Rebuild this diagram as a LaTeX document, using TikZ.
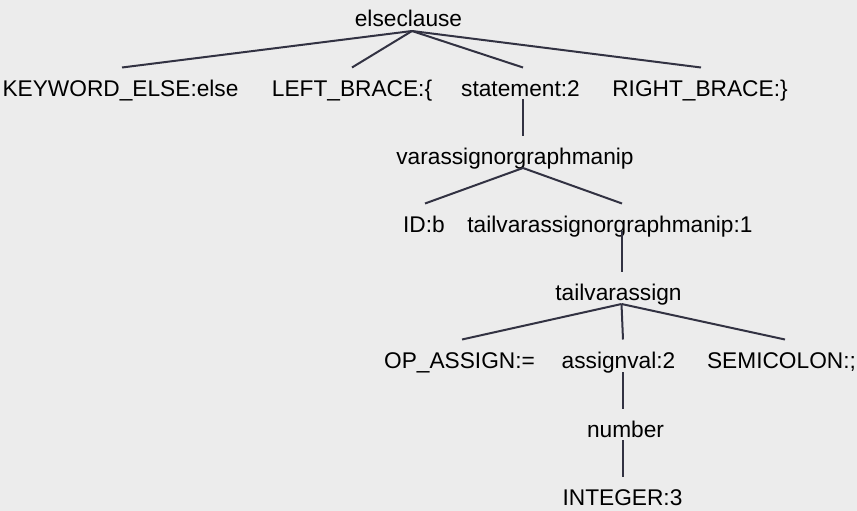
\documentclass[tikz,border=0pt]{standalone}
\usepackage{fontspec}
\setmainfont{Liberation Sans}
\definecolor{bg}{RGB}{236,236,236}
\definecolor{edge}{RGB}{50,50,66}
\tikzset{
  tok/.style={anchor=base, inner sep=0pt, font=\fontsize{22.7}{27}\selectfont},
  branch/.style={draw=edge, line width=2pt},
}
\begin{document}
\begin{tikzpicture}[x=1pt, y=-1pt]
    \fill [bg] (0, 0) rectangle (857, 511);
    \useasboundingbox (0, 0) rectangle (857, 511);

    % Root
    \node [tok] (else) at (408.5, 27) {elseclause};

    % Children of elseclause
    \node [tok] (kw) at (120.5, 96) {KEYWORD\_ELSE:else};
    \node [tok] (lb) at (352, 96) {LEFT\_BRACE:\{};
    \node [tok] (st) at (520.5, 96) {statement:2};
    \node [tok] (rb) at (700, 96) {RIGHT\_BRACE:\}};

    % Statement
    \node [tok] (va) at (515, 164) {varassignorgraphmanip};
    \node [tok] (id) at (424, 232) {ID:b};
    \node [tok] (tv) at (610, 232) {tailvarassignorgraphmanip:1};

    % Assignment
    \node [tok] (ta) at (618.5, 300) {tailvarassign};
    \node [tok] (op) at (459.5, 368) {OP\_ASSIGN:=};
    \node [tok] (av) at (618.5, 368) {assignval:2};
    \node [tok] (sc) at (781.5, 368) {SEMICOLON:;};
    \node [tok] (nu) at (625.5, 437) {number};
    \node [tok] (in) at (622.5, 505) {INTEGER:3};

    % Edges
    \draw [branch] ([xshift=3.5pt, yshift=-4pt]else.base) -- ([xshift=1.5pt, yshift=28.5pt]kw.base);
    \draw [branch] ([xshift=3.5pt, yshift=-4pt]else.base) -- ([yshift=28.5pt]lb.base);
    \draw [branch] ([xshift=3.5pt, yshift=-4pt]else.base) -- ([xshift=2.5pt, yshift=28.5pt]st.base);
    \draw [branch] ([xshift=3.5pt, yshift=-4pt]else.base) -- ([xshift=1pt, yshift=28.5pt]rb.base);
    \draw [branch] ([xshift=2.5pt, yshift=-3pt]st.base) -- ([xshift=8pt, yshift=28.5pt]va.base);
    \draw [branch] ([xshift=8pt, yshift=-4pt]va.base) -- ([xshift=1pt, yshift=28.5pt]id.base);
    \draw [branch] ([xshift=8pt, yshift=-4pt]va.base) -- ([xshift=12pt, yshift=28.5pt]tv.base);
    \draw [branch] ([xshift=11.5pt, yshift=1pt]tv.base) -- ([xshift=3pt, yshift=28.5pt]ta.base);
    \draw [branch] ([xshift=3pt, yshift=-4pt]ta.base) -- ([xshift=2.5pt, yshift=28.5pt]op.base);
    \draw [branch] ([xshift=3pt, yshift=-4pt]ta.base) -- ([xshift=4.5pt, yshift=28.5pt]av.base);
    \draw [branch] ([xshift=3pt, yshift=-4pt]ta.base) -- ([xshift=3.5pt, yshift=28.5pt]sc.base);
    \draw [branch] ([xshift=4.5pt, yshift=-4pt]av.base) -- ([xshift=-2.5pt, yshift=28.5pt]nu.base);
    \draw [branch] ([xshift=-2.5pt, yshift=-3pt]nu.base) -- ([xshift=0.5pt, yshift=28.5pt]in.base);
\end{tikzpicture}
\end{document}
